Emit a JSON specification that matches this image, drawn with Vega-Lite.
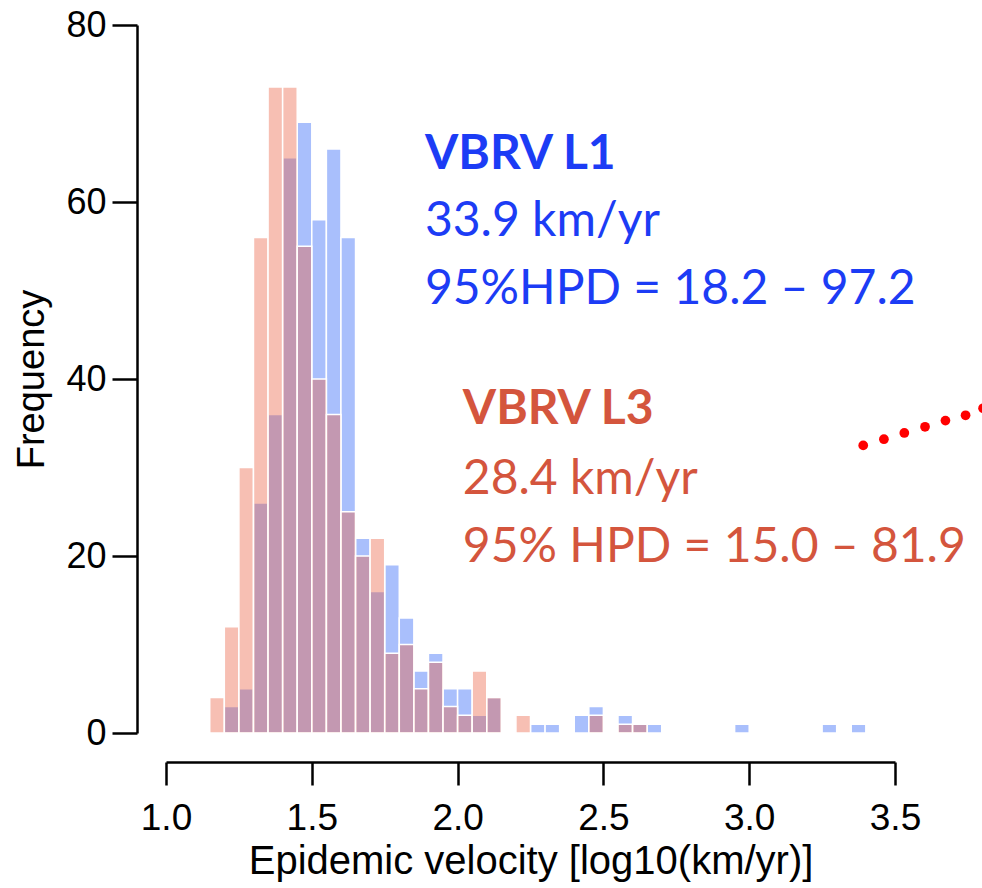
{
  "$schema": "https://vega.github.io/schema/vega-lite/v6.json",
  "width": 729,
  "height": 708,
  "autosize": {"type": "none"},
  "padding": {"left": 166, "top": 25, "right": 87, "bottom": 155},
  "background": "white",
  "config": {"view": {"stroke": null}, "axis": {"grid": false}},
  "datasets": {
    "hist": [
      {"lineage": "L1", "start": 1.20, "end": 1.25, "count": 3},
      {"lineage": "L1", "start": 1.25, "end": 1.30, "count": 5},
      {"lineage": "L1", "start": 1.30, "end": 1.35, "count": 26},
      {"lineage": "L1", "start": 1.35, "end": 1.40, "count": 36},
      {"lineage": "L1", "start": 1.40, "end": 1.45, "count": 65},
      {"lineage": "L1", "start": 1.45, "end": 1.50, "count": 69},
      {"lineage": "L1", "start": 1.50, "end": 1.55, "count": 58},
      {"lineage": "L1", "start": 1.55, "end": 1.60, "count": 66},
      {"lineage": "L1", "start": 1.60, "end": 1.65, "count": 56},
      {"lineage": "L1", "start": 1.65, "end": 1.70, "count": 22},
      {"lineage": "L1", "start": 1.70, "end": 1.75, "count": 16},
      {"lineage": "L1", "start": 1.75, "end": 1.80, "count": 19},
      {"lineage": "L1", "start": 1.80, "end": 1.85, "count": 13},
      {"lineage": "L1", "start": 1.85, "end": 1.90, "count": 7},
      {"lineage": "L1", "start": 1.90, "end": 1.95, "count": 9},
      {"lineage": "L1", "start": 1.95, "end": 2.00, "count": 5},
      {"lineage": "L1", "start": 2.00, "end": 2.05, "count": 5},
      {"lineage": "L1", "start": 2.05, "end": 2.10, "count": 2},
      {"lineage": "L1", "start": 2.10, "end": 2.15, "count": 4},
      {"lineage": "L1", "start": 2.25, "end": 2.30, "count": 1},
      {"lineage": "L1", "start": 2.30, "end": 2.35, "count": 1},
      {"lineage": "L1", "start": 2.40, "end": 2.45, "count": 2},
      {"lineage": "L1", "start": 2.45, "end": 2.50, "count": 3},
      {"lineage": "L1", "start": 2.55, "end": 2.60, "count": 2},
      {"lineage": "L1", "start": 2.60, "end": 2.65, "count": 1},
      {"lineage": "L1", "start": 2.65, "end": 2.70, "count": 1},
      {"lineage": "L1", "start": 2.95, "end": 3.00, "count": 1},
      {"lineage": "L1", "start": 3.25, "end": 3.30, "count": 1},
      {"lineage": "L1", "start": 3.35, "end": 3.40, "count": 1},
      {"lineage": "L3", "start": 1.15, "end": 1.20, "count": 4},
      {"lineage": "L3", "start": 1.20, "end": 1.25, "count": 12},
      {"lineage": "L3", "start": 1.25, "end": 1.30, "count": 30},
      {"lineage": "L3", "start": 1.30, "end": 1.35, "count": 56},
      {"lineage": "L3", "start": 1.35, "end": 1.40, "count": 73},
      {"lineage": "L3", "start": 1.40, "end": 1.45, "count": 73},
      {"lineage": "L3", "start": 1.45, "end": 1.50, "count": 55},
      {"lineage": "L3", "start": 1.50, "end": 1.55, "count": 40},
      {"lineage": "L3", "start": 1.55, "end": 1.60, "count": 36},
      {"lineage": "L3", "start": 1.60, "end": 1.65, "count": 25},
      {"lineage": "L3", "start": 1.65, "end": 1.70, "count": 20},
      {"lineage": "L3", "start": 1.70, "end": 1.75, "count": 22},
      {"lineage": "L3", "start": 1.75, "end": 1.80, "count": 9},
      {"lineage": "L3", "start": 1.80, "end": 1.85, "count": 10},
      {"lineage": "L3", "start": 1.85, "end": 1.90, "count": 5},
      {"lineage": "L3", "start": 1.90, "end": 1.95, "count": 8},
      {"lineage": "L3", "start": 1.95, "end": 2.00, "count": 3},
      {"lineage": "L3", "start": 2.00, "end": 2.05, "count": 2},
      {"lineage": "L3", "start": 2.05, "end": 2.10, "count": 7},
      {"lineage": "L3", "start": 2.10, "end": 2.15, "count": 4},
      {"lineage": "L3", "start": 2.20, "end": 2.25, "count": 2},
      {"lineage": "L3", "start": 2.45, "end": 2.50, "count": 2},
      {"lineage": "L3", "start": 2.55, "end": 2.60, "count": 1},
      {"lineage": "L3", "start": 2.60, "end": 2.65, "count": 1}
    ],
    "dots": [
      {"v": 3.391, "f": 32.5},
      {"v": 3.462, "f": 33.2},
      {"v": 3.532, "f": 33.9},
      {"v": 3.603, "f": 34.6},
      {"v": 3.673, "f": 35.3},
      {"v": 3.742, "f": 35.9},
      {"v": 3.802, "f": 36.7}
    ],
    "l1bold": [{"v": 1.888, "f": 65.3, "label": "VBRV L1"}],
    "l1reg": [
      {"v": 1.888, "f": 57.7, "label": "33.9 km/yr"},
      {"v": 1.888, "f": 50.1, "label": "95%HPD = 18.2 – 97.2"}
    ],
    "l3bold": [{"v": 2.018, "f": 36.5, "label": "VBRV L3"}],
    "l3reg": [
      {"v": 2.018, "f": 28.6, "label": "28.4 km/yr"},
      {"v": 2.018, "f": 20.9, "label": "95% HPD = 15.0 – 81.9"}
    ]
  },
  "layer": [
    {
      "data": {"name": "hist"},
      "mark": {"type": "rect", "fillOpacity": 0.4, "stroke": "white", "strokeWidth": 1.5, "strokeOpacity": 1},
      "encoding": {
        "x": {
          "field": "start", "type": "quantitative",
          "scale": {"domain": [1, 3.5], "nice": false, "zero": false},
          "axis": {
            "values": [1, 1.5, 2, 2.5, 3, 3.5], "format": ".1f", "labelFlush": false,
            "title": "Epidemic velocity [log10(km/yr)]",
            "offset": 29, "tickSize": 23, "tickWidth": 2.5, "tickColor": "black",
            "domainWidth": 2.5, "domainColor": "black",
            "labelFont": "Liberation Sans", "labelFontSize": 37, "labelColor": "black", "labelPadding": 15,
            "titleFont": "Liberation Sans", "titleFontSize": 40, "titleFontWeight": "normal", "titleColor": "black", "titlePadding": 5
          }
        },
        "x2": {"field": "end"},
        "y": {
          "field": "count", "type": "quantitative",
          "scale": {"domain": [0, 80], "nice": false},
          "axis": {
            "values": [0, 20, 40, 60, 80], "labelFlush": false,
            "title": "Frequency",
            "offset": 29, "tickSize": 25, "tickWidth": 2.5, "tickColor": "black",
            "domainWidth": 2.5, "domainColor": "black",
            "labelFont": "Liberation Sans", "labelFontSize": 36, "labelColor": "black", "labelPadding": 6,
            "titleFont": "Liberation Sans", "titleFontSize": 38, "titleFontWeight": "normal", "titleColor": "black", "titlePadding": 14
          }
        },
        "y2": {"datum": 0},
        "color": {
          "field": "lineage", "type": "nominal",
          "scale": {"domain": ["L1", "L3"], "range": ["#285ff7", "#eb5f41"]},
          "legend": null
        }
      }
    },
    {
      "data": {"name": "dots"},
      "mark": {"type": "point", "filled": true, "size": 95, "opacity": 1, "color": "#ff0000", "clip": false},
      "encoding": {
        "x": {"field": "v", "type": "quantitative"},
        "y": {"field": "f", "type": "quantitative"}
      }
    },
    {
      "data": {"name": "l1bold"},
      "mark": {"type": "text", "align": "left", "baseline": "middle", "font": "Lato", "fontSize": 48, "fontWeight": "bold", "color": "#1c3cf5"},
      "encoding": {
        "x": {"field": "v", "type": "quantitative"},
        "y": {"field": "f", "type": "quantitative"},
        "text": {"field": "label"}
      }
    },
    {
      "data": {"name": "l1reg"},
      "mark": {"type": "text", "align": "left", "baseline": "middle", "font": "Lato", "fontSize": 48, "color": "#1c3cf5"},
      "encoding": {
        "x": {"field": "v", "type": "quantitative"},
        "y": {"field": "f", "type": "quantitative"},
        "text": {"field": "label"}
      }
    },
    {
      "data": {"name": "l3bold"},
      "mark": {"type": "text", "align": "left", "baseline": "middle", "font": "Lato", "fontSize": 48, "fontWeight": "bold", "color": "#d4553d"},
      "encoding": {
        "x": {"field": "v", "type": "quantitative"},
        "y": {"field": "f", "type": "quantitative"},
        "text": {"field": "label"}
      }
    },
    {
      "data": {"name": "l3reg"},
      "mark": {"type": "text", "align": "left", "baseline": "middle", "font": "Lato", "fontSize": 48, "color": "#d4553d"},
      "encoding": {
        "x": {"field": "v", "type": "quantitative"},
        "y": {"field": "f", "type": "quantitative"},
        "text": {"field": "label"}
      }
    }
  ]
}
